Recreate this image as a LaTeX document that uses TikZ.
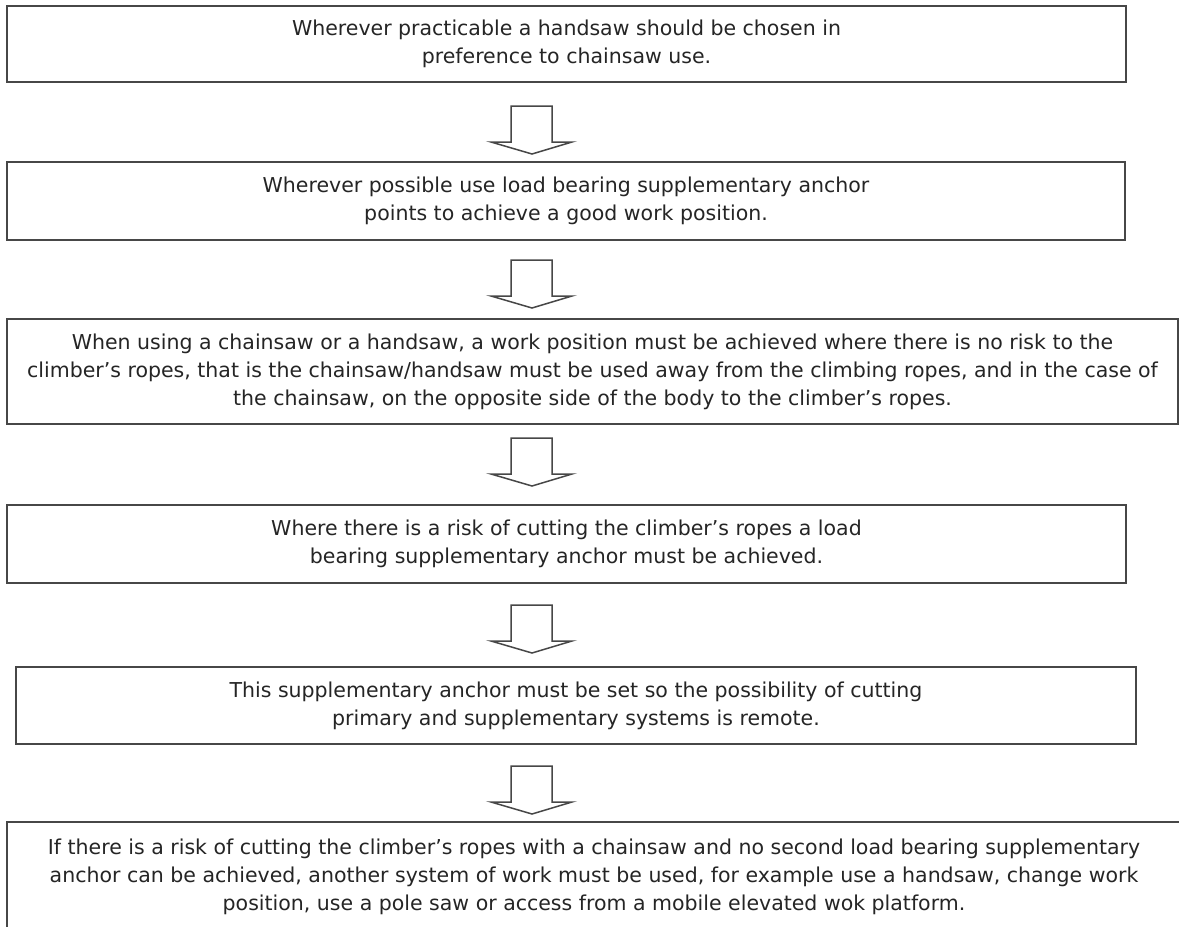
\documentclass[tikz,border=0pt]{standalone}
\usepackage{fontspec}
\setmainfont{DejaVu Sans}
\usetikzlibrary{calc}
\definecolor{edge}{HTML}{474747}
\definecolor{ink}{HTML}{252525}
\tikzset{
  stepbox/.style={draw=edge, line width=2pt, fill=white, rectangle, inner sep=0pt,
    align=center, text=ink, font=\fontsize{20.5}{28}\selectfont},
  blockarrow/.style={draw=edge, line width=1.5pt, fill=white, line join=miter},
}
% hollow block arrow below box #1, starting #3 pt under its lower edge
\newcommand\flowarrow[3]{%
  \draw[blockarrow] (#1.south -| ax) ++(-21pt,-#3pt) -- ++(0,-36pt) -- ++(-20pt,0)
    -- ++(41pt,-12pt) -- ++(40pt,12pt) -- ++(-20pt,0) -- ++(0,36pt) -- cycle;
}
\begin{document}
\begin{tikzpicture}[x=1pt,y=-1pt]
\useasboundingbox (0,0) rectangle (1179,927);
\clip (0,0) rectangle (1179,927);
\fill[white] (0,0) rectangle (1179,927);
\coordinate (ax) at (532,0);

\node[stepbox, minimum width=1119pt, minimum height=76pt] (b1) at (566.5,44)
  {Wherever practicable a handsaw should be chosen in\\preference to chainsaw use.};
\node[stepbox, minimum width=1118pt, minimum height=78pt] (b2) at (566,201)
  {Wherever possible use load bearing supplementary anchor\\points to achieve a good work position.};
\node[stepbox, minimum width=1171pt, minimum height=105pt] (b3) at (592.5,371.5)
  {When using a chainsaw or a handsaw, a work position must be achieved where there is no risk to the\\
   climber’s ropes, that is the chainsaw/handsaw must be used away from the climbing ropes, and in the case of\\
   the chainsaw, on the opposite side of the body to the climber’s ropes.};
\node[stepbox, minimum width=1119pt, minimum height=78pt] (b4) at (566.5,544)
  {Where there is a risk of cutting the climber’s ropes a load\\bearing supplementary anchor must be achieved.};
\node[stepbox, minimum width=1120pt, minimum height=77pt] (b5) at (576,705.5)
  {This supplementary anchor must be set so the possibility of cutting\\primary and supplementary systems is remote.};
\node[stepbox, minimum width=1174pt, minimum height=110pt] (b6) at (594,877)
  {If there is a risk of cutting the climber’s ropes with a chainsaw and no second load bearing supplementary\\
   anchor can be achieved, another system of work must be used, for example use a handsaw, change work\\
   position, use a pole saw or access from a mobile elevated wok platform.};

\flowarrow{b1}{b2}{23}
\flowarrow{b2}{b3}{19}
\flowarrow{b3}{b4}{13}
\flowarrow{b4}{b5}{21}
\flowarrow{b5}{b6}{21}
\end{tikzpicture}
\end{document}
